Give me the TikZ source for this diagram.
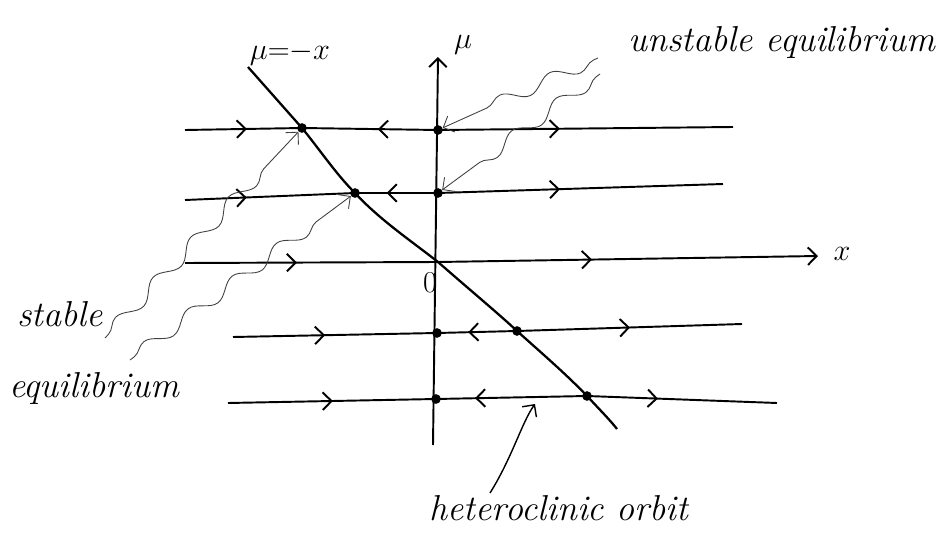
\documentclass[tikz,border=0pt]{standalone}
\usepackage{amsmath}
\usepackage{tikz}
\usetikzlibrary{arrows.meta,positioning,decorations.pathmorphing,decorations.markings}

\tikzset{
  flow/.style={line width=1.1pt},
  dot/.style={circle,fill,inner sep=0pt,minimum size=5.5pt},
  fwdat/.style={postaction={decorate,decoration={markings,
      mark=at position #1 with {\arrow{Straight Barb[length=5pt,width=10pt]}}}}},
  bwdat/.style={postaction={decorate,decoration={markings,
      mark=at position #1 with {\arrowreversed{Straight Barb[length=5pt,width=10pt]}}}}},
  wiggle/.style={black!75,line width=0.5pt,decorate,
      decoration={snake,amplitude=1.3mm,segment length=11mm,pre length=1mm,post length=5mm}},
  hand/.style={font=\itshape\fontsize{20.5}{23}\selectfont},
  lbl/.style={font=\fontsize{17}{19}\selectfont},
}

\begin{document}
\begin{tikzpicture}[x=0.02cm,y=-0.02cm,>={Straight Barb[length=5pt,width=10pt]}]
  \useasboundingbox (0,0) rectangle (951,537);
  % equilibria: c = on mu=-x, a = on the mu axis
  \node[dot] (c1) at (302,128) {};
  \node[dot] (c2) at (355,193) {};
  \node[dot] (c3) at (517,331) {};
  \node[dot] (c4) at (587,396) {};
  \node[dot] (a1) at (438,130) {};
  \node[dot] (a2) at (438,193) {};
  \node[dot] (a3) at (437,333) {};
  \node[dot] (a4) at (436,399) {};
  \coordinate (O) at (438,262);
  \coordinate (ctop) at (248,67);  \coordinate (cbot) at (617,429);
  \coordinate (mubot) at (433,445); \coordinate (mutop) at (438,57);
  \coordinate (xw) at (185,263);   \coordinate (xe) at (818,256);
  \coordinate (l1w) at (185,130);  \coordinate (l1e) at (733,127);
  \coordinate (l2w) at (185,200);  \coordinate (l2e) at (723,184);
  \coordinate (l4w) at (233,337);  \coordinate (l4e) at (742,324);
  \coordinate (l5w) at (228,403);  \coordinate (l5e) at (777,403);

  % axes
  \draw[flow,->] (mubot) -- (mutop);
  \draw[flow,->,fwdat=0.177,fwdat=0.643] (xw) -- (O) -- (xe);
  \node[lbl] (mulab) at (463,45) {$\mu$};
  \node[lbl] (xlab) at (842,254) {$x$};
  \node[lbl] (zero) at (430,283) {$0$};

  % flow lines
  \draw[flow,fwdat=0.113,bwdat=0.352,fwdat=0.684] (l1w) -- (c1.center) -- (a1.center) -- (l1e);
  \draw[flow,fwdat=0.115,bwdat=0.375,fwdat=0.697] (l2w) -- (c2.center) -- (a2.center) -- (l2e);
  \draw[flow,fwdat=0.181,bwdat=0.462,fwdat=0.78] (l4w) -- (a3.center) -- (c3.center) -- (l4e);
  \draw[flow,fwdat=0.191,bwdat=0.45,fwdat=0.783] (l5w) -- (a4.center) -- (c4.center) -- (l5e);

  % mu = -x
  \draw[line width=1.3pt] (ctop) -- (c1.center)
    .. controls (320,150) and (336,174) .. (c2.center)
    .. controls (380,220) and (410,240) .. (O)
    .. controls (470,290) and (500,315) .. (c3.center)
    .. controls (545,356) and (568,376) .. (c4.center)
    .. controls (600,410) and (610,420) .. (cbot);
  \node[lbl] (curvelab) at (290,54) {$\mu{=}{-}x$};

  % annotations
  \node[hand] (unst) at (782,42) {unstable equilibrium};
  \node[hand] (stab) at (60,314) {stable};
  \node[hand] (stabeq) at (94,388) {equilibrium};
  \node[hand] (het) at (559,508) {heteroclinic orbit};
  \coordinate (uw1) at (598,58);  \coordinate (uw2) at (600,74);
  \coordinate (sw1) at (105,338); \coordinate (sw2) at (130,360);
  \coordinate (hw) at (490,493);  \coordinate (hwtip) at (535,404);
  \draw[wiggle,->] (uw1) -- (a1);
  \draw[wiggle,->] (uw2) -- (a2);
  \draw[wiggle,->] (sw1) -- (c1);
  \draw[wiggle,->] (sw2) -- (c2);
  \draw[line width=0.8pt,->] (hw) .. controls (512,458) and (522,422) .. (hwtip);
\end{tikzpicture}
\end{document}
